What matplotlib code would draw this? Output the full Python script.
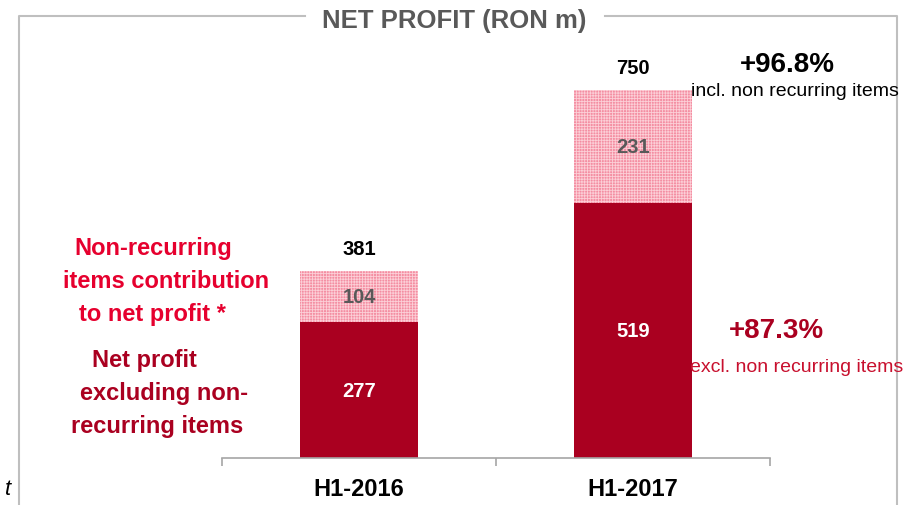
import numpy as np
from matplotlib import pyplot as plt
from matplotlib.lines import Line2D

plt.rcParams['font.family'] = ['Liberation Sans', 'DejaVu Sans']
plt.rcParams['hatch.linewidth'] = 0.6

categories = ["H1-2016", "H1-2017"]
netExcl = [277, 519]
nonRec = [104, 231]
growthIncl = "+96.8%"
growthExcl = "+87.3%"

darkRed = '#AA0020'
brightRed = '#E6002E'
pinkFill = '#F48EA2'
frameGray = '#BFBFBF'

W, H = 906, 506
fig = plt.figure(figsize=(W/100, H/100), dpi=100)

def px(x, y):
    # pixel position from top-left -> figure fraction
    return x/W, 1 - y/H

# frame with a gap for the title
frame = [((19, 506), (19, 17), (305, 17)), ((605, 17), (897, 17), (897, 506))]
for seg in frame:
    xs = [px(*p)[0] for p in seg]
    ys = [px(*p)[1] for p in seg]
    fig.add_artist(Line2D(xs, ys, color=frameGray, lw=1.5, transform=fig.transFigure))

fig.text(*px(454, 21), "NET PROFIT (RON m)", ha='center', va='center',
         fontsize=18.5, fontweight='bold', color='#595959')

axL, axR, axB = 222, 770, 459
ymax = 800
pxPerUnit = 0.4907
axTop = axB - ymax*pxPerUnit
ax = fig.add_axes([axL/W, 1 - axB/H, (axR-axL)/W, (axB-axTop)/H])

x = np.arange(len(categories))
totals = [a + b for a, b in zip(netExcl, nonRec)]
barW = 0.43
ax.bar(x, netExcl, width=barW, color=darkRed, linewidth=0)
ax.bar(x, nonRec, bottom=netExcl, width=barW, color=pinkFill,
       hatch='+'*6, edgecolor='#FCCFD7', linewidth=0)

for i in range(len(categories)):
    ax.text(x[i], netExcl[i]/2, str(netExcl[i]), ha='center', va='center',
            fontsize=14.5, fontweight='bold', color='white')
    ax.text(x[i], netExcl[i] + nonRec[i]/2, str(nonRec[i]), ha='center', va='center',
            fontsize=14.5, fontweight='bold', color='#595959')
    ax.annotate(str(totals[i]), (x[i], totals[i]), xytext=(0, 16), textcoords='offset points',
                ha='center', va='center', fontsize=14.5, fontweight='bold', color='black')

ax.set_xlim(-0.5, 1.5)
ax.set_ylim(0, ymax)
for s in ['top', 'right', 'left']:
    ax.spines[s].set_visible(False)
ax.spines['bottom'].set_color('#A6A6A6')
ax.spines['bottom'].set_linewidth(1.2)
ax.set_yticks([])
ax.set_xticks([-0.5, 0.5, 1.5])
ax.set_xticklabels([])
ax.tick_params(axis='x', which='major', length=6, color='#A6A6A6', width=1.2)
ax.set_xticks(x, minor=True)
ax.set_xticklabels(categories, minor=True, fontsize=17, fontweight='bold')
ax.tick_params(axis='x', which='minor', length=0, pad=14)

# left side legend text
topLines = [("Non-recurring", 153, 249), ("items contribution", 166, 282), ("to net profit *", 152, 315)]
botLines = [("Net profit", 144, 361), ("excluding non-", 164, 394), ("recurring items", 157, 427)]
for txt, cx, cy in topLines:
    fig.text(*px(cx, cy), txt, ha='center', va='center', fontsize=17, fontweight='bold', color=brightRed)
for txt, cx, cy in botLines:
    fig.text(*px(cx, cy), txt, ha='center', va='center', fontsize=17, fontweight='bold', color=darkRed)

# growth annotations
fig.text(*px(787, 65), growthIncl, ha='center', va='center', fontsize=20, fontweight='bold', color='black')
fig.text(*px(795, 92), "incl. non recurring items", ha='center', va='center', fontsize=14, color='black')
fig.text(*px(776, 331), growthExcl, ha='center', va='center', fontsize=20, fontweight='bold', color=darkRed)
fig.text(*px(797, 367), "excl. non recurring items", ha='center', va='center', fontsize=14, color='#C8102E')

fig.text(*px(5, 490), "t", ha='left', va='center', fontsize=16, style='italic', color='black')

fig.savefig("out.png", dpi=100)
